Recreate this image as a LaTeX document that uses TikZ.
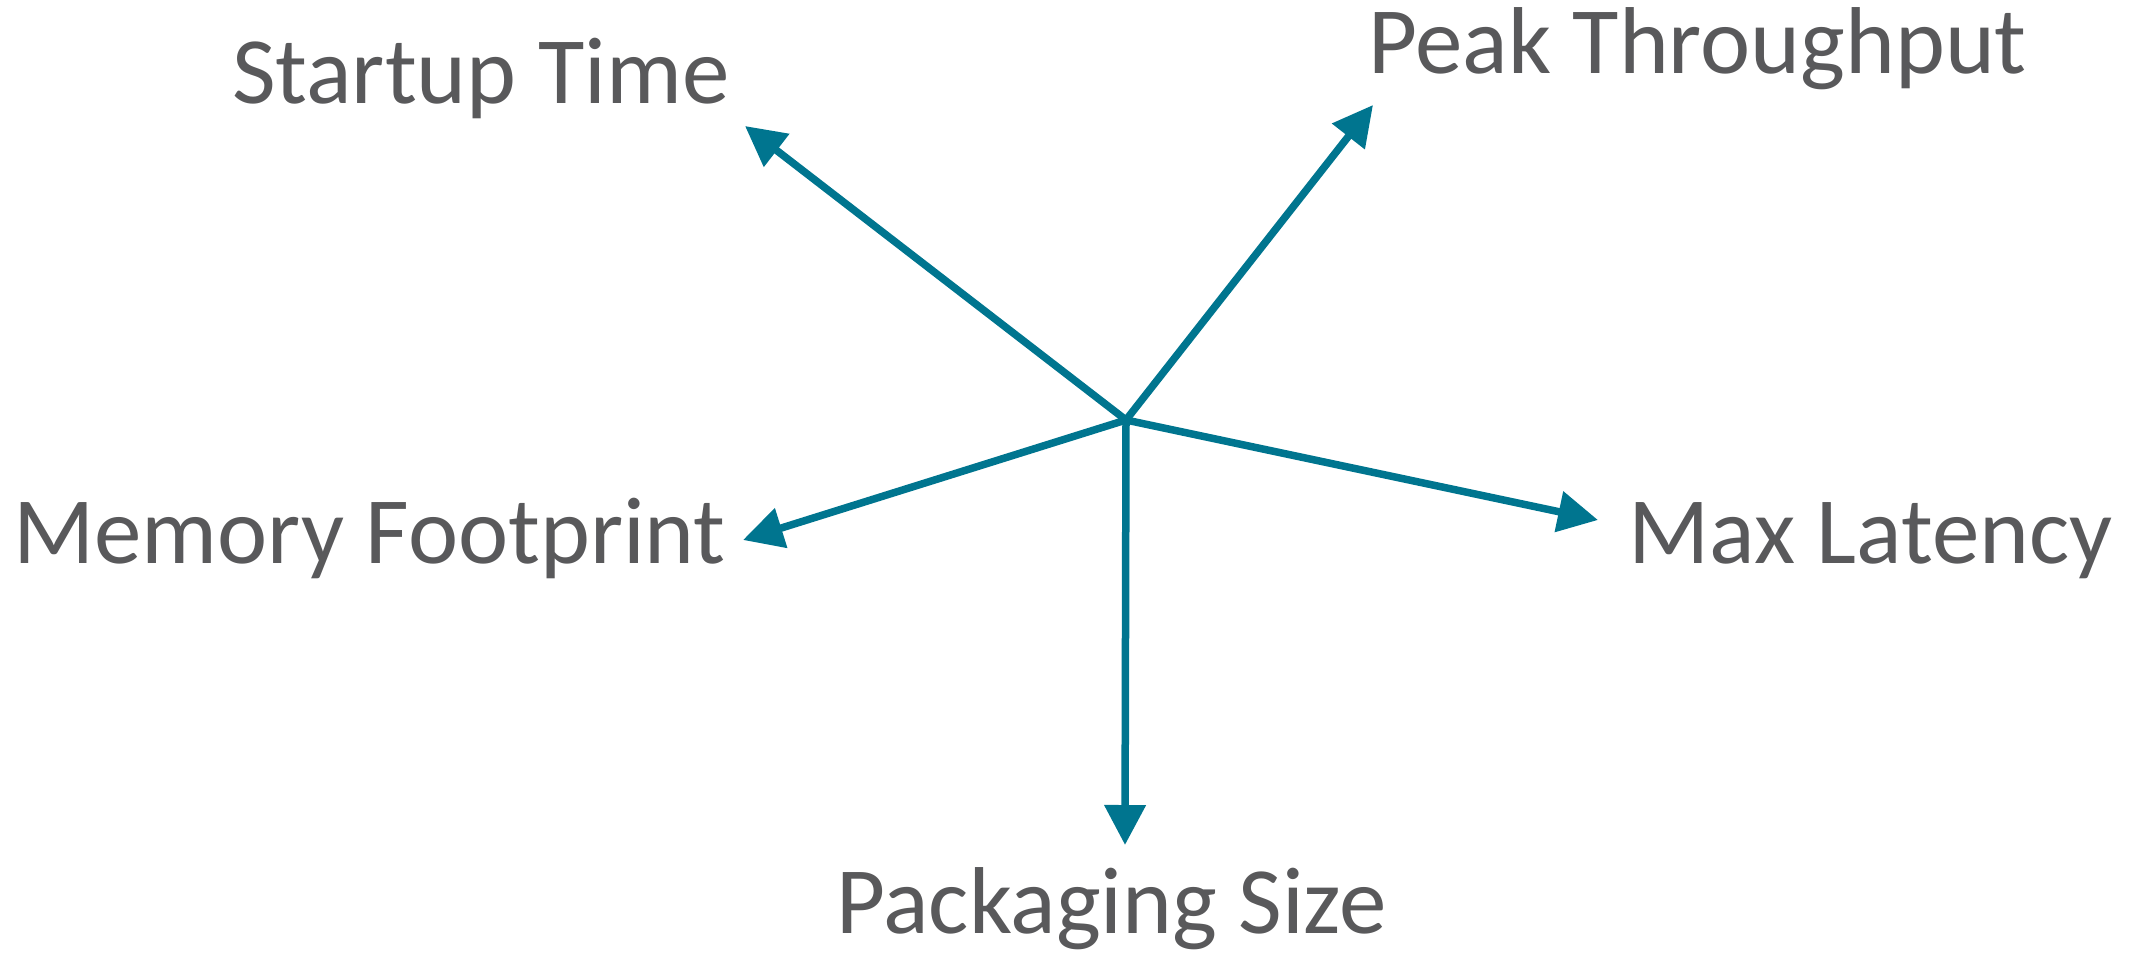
\documentclass[tikz,border=0pt]{standalone}
\usepackage{fontspec}
\setmainfont{Carlito}
\usepackage{tikz}
\usetikzlibrary{arrows.meta}
\definecolor{axisteal}{RGB}{0,117,143}
\definecolor{lblgray}{RGB}{89,89,91}
\tikzset{lbl/.style={anchor=base west,inner sep=0pt,text=lblgray,font=\fontsize{95}{110}\selectfont},
  arr/.style={-{Triangle[length=40pt,width=40pt]},line width=7.5pt,draw=axisteal}}

\begin{document}
\begin{tikzpicture}[x=1pt,y=-1pt]
\useasboundingbox (0,0) rectangle (2131,954);
\coordinate (hub) at (1126,420);
\coordinate (tS) at (745,126);
\coordinate (tP) at (1373,105);
\coordinate (tM) at (743,540);
\coordinate (tL) at (1598,520);
\coordinate (tK) at (1125,845);
\node[lbl] (startup) at (232,103){Startup Time};
\node[lbl,anchor=base east] (peak) at (2027,73){Peak Throughput};
\node[lbl] (memory) at (13,563){Memory Footprint};
\node[lbl] (latency) at (1628,563){Max Latency};
\node[lbl] (packaging) at (836,933){Packaging Size};
\draw[arr] (hub)--(tS); \draw[arr] (hub)--(tP); \draw[arr] (hub)--(tM);
\draw[arr] (hub)--(tL); \draw[arr] (hub)--(tK);
\end{tikzpicture}
\end{document}
